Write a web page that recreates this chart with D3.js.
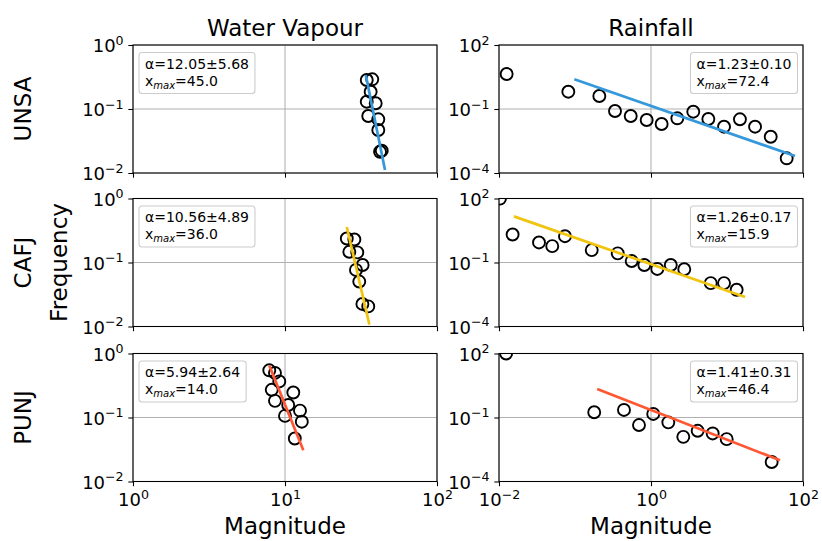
<!DOCTYPE html>
<html><head><meta charset="utf-8">
<script src="https://cdn.jsdelivr.net/npm/d3@7"></script>
<style>body{margin:0;background:#fff} text{font-family:"DejaVu Sans",sans-serif;fill:#000}</style>
</head><body><svg id="c" width="822" height="541"></svg>
<script>
// ---------- data ----------
const rowLabels = ["UNSA", "CAFJ", "PUNJ"];
const colTitles = ["Water Vapour", "Rainfall"];
const wvTicksX = [1, 10, 100];
const wvTicksY = [0.01, 0.1, 1];
const rainTicksX = [0.01, 1, 100];
const rainTicksY = [1e-4, 0.1, 100];
const lineColors = ["#3498db", "#f1c40f", "#ff5733"];

// Water vapour
const unsaWvX = [34.5, 37.5, 36.6, 34.5, 39.5, 35.3, 41.1, 41.1, 43.3, 42.2];
const unsaWvY = [0.284, 0.291, 0.186, 0.130, 0.123, 0.0778, 0.069, 0.047, 0.0223, 0.0215];
const unsaWvFitX = [34.0, 45.5];
const unsaWvFitY = [0.34, 0.0111];

const cafjWvX = [25.5, 28.6, 26.5, 29.9, 32.4, 29.3, 30.8, 32.3, 35.3];
const cafjWvY = [0.237, 0.229, 0.147, 0.144, 0.0915, 0.0765, 0.0504, 0.0225, 0.0206];
const cafjWvFitX = [25.5, 35.9];
const cafjWvFitY = [0.359, 0.0107];

const punjWvX = [7.88, 8.59, 9.17, 8.18, 11.34, 8.59, 10.5, 12.55, 10.0, 12.9, 11.6];
const punjWvY = [0.546, 0.497, 0.366, 0.271, 0.246, 0.182, 0.157, 0.128, 0.106, 0.086, 0.047];
const punjWvFitX = [7.88, 13.2];
const punjWvFitY = [0.647, 0.0308];

// Rainfall
const unsaRainX = [0.0126, 0.0817, 0.209, 0.336, 0.541, 0.877, 1.38, 2.22, 3.60, 5.68, 9.14, 14.8, 23.4, 37.6, 61.0];
const unsaRainY = [4.37, 0.647, 0.406, 0.0805, 0.0469, 0.0305, 0.0198, 0.0366, 0.0747, 0.034, 0.0148, 0.0329, 0.0148, 0.00502, 0.000488];
const unsaRainFitX = [0.098, 78.5];
const unsaRainFitY = [2.47, 0.000625];

const cafjRainX = [0.0103, 0.0151, 0.0336, 0.0502, 0.0738, 0.166, 0.365, 0.557, 0.817, 1.21, 1.82, 2.74, 6.11, 9.14, 13.4];
const cafjRainY = [99, 2.05, 0.871, 0.585, 1.71, 0.381, 0.268, 0.117, 0.0766, 0.0499, 0.0766, 0.0483, 0.0108, 0.0108, 0.00526];
const cafjRainFitX = [0.0157, 17.3];
const cafjRainFitY = [14.5, 0.0024];

const punjRainX = [0.0124, 0.179, 0.441, 0.695, 1.07, 1.69, 2.66, 4.11, 6.48, 9.91, 38.7];
const punjRainY = [100, 0.176, 0.226, 0.0443, 0.147, 0.0594, 0.0124, 0.0238, 0.0179, 0.00966, 0.000818];
const punjRainFitX = [0.196, 49.8];
const punjRainFitY = [2.15, 0.000984];

const wvAlpha = ["α=12.05±5.68", "α=10.56±4.89", "α=5.94±2.64"];
const wvXmax = ["45.0", "36.0", "14.0"];
const rainAlpha = ["α=1.23±0.10", "α=1.26±0.17", "α=1.41±0.31"];
const rainXmax = ["72.4", "15.9", "46.4"];

// ---------- layout ----------
const svg = d3.select("#c");
const colLeft = [133, 499], colW = 304;
const rowTop = [45, 198.5, 353.5], rowH = 128;

const panels = [
  {r:0,c:0,x:unsaWvX,y:unsaWvY,fx:unsaWvFitX,fy:unsaWvFitY,a:wvAlpha[0],m:wvXmax[0]},
  {r:0,c:1,x:unsaRainX,y:unsaRainY,fx:unsaRainFitX,fy:unsaRainFitY,a:rainAlpha[0],m:rainXmax[0]},
  {r:1,c:0,x:cafjWvX,y:cafjWvY,fx:cafjWvFitX,fy:cafjWvFitY,a:wvAlpha[1],m:wvXmax[1]},
  {r:1,c:1,x:cafjRainX,y:cafjRainY,fx:cafjRainFitX,fy:cafjRainFitY,a:rainAlpha[1],m:rainXmax[1]},
  {r:2,c:0,x:punjWvX,y:punjWvY,fx:punjWvFitX,fy:punjWvFitY,a:wvAlpha[2],m:wvXmax[2]},
  {r:2,c:1,x:punjRainX,y:punjRainY,fx:punjRainFitX,fy:punjRainFitY,a:rainAlpha[2],m:rainXmax[2]},
];

function sup(sel, v) {
  const e = Math.round(Math.log10(v));
  sel.text(null);
  sel.append("tspan").text("10");
  sel.append("tspan").attr("dy", -7.5).style("font-size", "12.6px")
     .text(String(e).replace("-", "\u2212"));
}

const defs = svg.append("defs");

panels.forEach((p, i) => {
  const x0 = colLeft[p.c], y0 = rowTop[p.r];
  const xs = d3.scaleLog().domain(p.c === 0 ? [1, 100] : [0.01, 100]).range([x0, x0 + colW]);
  const ys = d3.scaleLog().domain(p.c === 0 ? [0.01, 1] : [1e-4, 100]).range([y0 + rowH, y0]);
  const tx = p.c === 0 ? wvTicksX : rainTicksX;
  const ty = p.c === 0 ? wvTicksY : rainTicksY;
  const g = svg.append("g");

  defs.append("clipPath").attr("id", "clip" + i).append("rect")
    .attr("x", x0).attr("y", y0).attr("width", colW).attr("height", rowH);

  // grid
  g.append("g").selectAll("line").data(tx).join("line")
    .attr("x1", d => xs(d)).attr("x2", d => xs(d)).attr("y1", y0).attr("y2", y0 + rowH)
    .attr("stroke", "#b0b0b0").attr("stroke-width", 1.07);
  g.append("g").selectAll("line").data(ty).join("line")
    .attr("y1", d => ys(d)).attr("y2", d => ys(d)).attr("x1", x0).attr("x2", x0 + colW)
    .attr("stroke", "#b0b0b0").attr("stroke-width", 1.07);

  const plot = g.append("g").attr("clip-path", `url(#clip${i})`);
  plot.selectAll("circle").data(p.x.map((v, k) => [v, p.y[k]])).join("circle")
    .attr("cx", d => xs(d[0])).attr("cy", d => ys(d[1])).attr("r", 6)
    .attr("fill", "none").attr("stroke", "#000").attr("stroke-width", 1.9);
  plot.append("path")
    .attr("d", d3.line().x(d => xs(d[0])).y(d => ys(d[1]))(p.fx.map((v, k) => [v, p.fy[k]])))
    .attr("stroke", lineColors[p.r]).attr("stroke-width", 2.7).attr("fill", "none");

  // axes
  const ay = g.append("g").attr("transform", `translate(${x0},0)`)
    .call(d3.axisLeft(ys).tickValues(ty).tickSize(4.7).tickPadding(4.7));
  ay.select(".domain").remove();
  ay.selectAll("line").attr("stroke-width", 1.07);
  ay.selectAll("text").style("font-size", "18px").attr("dy", null).attr("y", 6.5)
    .each(function(d) { sup(d3.select(this), d); });

  const ax = g.append("g").attr("transform", `translate(0,${y0 + rowH})`)
    .call(d3.axisBottom(xs).tickValues(tx).tickSize(4.7).tickPadding(4.7));
  ax.select(".domain").remove();
  ax.selectAll("line").attr("stroke-width", 1.07);
  if (p.r === 2) {
    ax.selectAll("text").style("font-size", "18px").attr("dy", null).attr("y", 24.5)
      .each(function(d) { sup(d3.select(this), d); });
  } else {
    ax.selectAll("text").remove();
  }

  // spines
  g.append("rect").attr("x", x0).attr("y", y0).attr("width", colW).attr("height", rowH)
    .attr("fill", "none").attr("stroke", "#000").attr("stroke-width", 1.07);

  // legend
  const lg = g.append("g");
  const box = lg.append("rect").attr("rx", 3).attr("ry", 3)
    .attr("fill", "#fff").attr("fill-opacity", 0.8).attr("stroke", "#cccccc").attr("stroke-width", 1.07);
  const t = lg.append("text").style("font-size", "14px");
  t.append("tspan").attr("x", 0).attr("y", 0).text(p.a);
  t.append("tspan").attr("x", 0).attr("y", 17).text("x");
  t.append("tspan").attr("dy", 3).style("font-size", "10px").style("font-style", "italic").text("max");
  t.append("tspan").attr("dy", -3).text("=" + p.m);
  const bb = t.node().getBBox();
  const bw = bb.width + 12, bh = 41;
  const bx = p.c === 0 ? x0 + 6 : x0 + colW - 5.5 - bw;
  const by = y0 + 7.5;
  box.attr("x", bx).attr("y", by).attr("width", bw).attr("height", bh);
  t.attr("transform", `translate(${bx + 6},${by + 16})`);
});

// titles
colTitles.forEach((s, c) => {
  svg.append("text").attr("x", colLeft[c] + colW / 2).attr("y", 36)
    .attr("text-anchor", "middle").style("font-size", "23px").text(s);
  svg.append("text").attr("x", colLeft[c] + colW / 2).attr("y", 534)
    .attr("text-anchor", "middle").style("font-size", "23px").text("Magnitude");
});
rowLabels.forEach((s, r) => {
  const cy = rowTop[r] + rowH / 2;
  svg.append("text").attr("transform", `translate(31,${cy}) rotate(-90)`)
    .attr("text-anchor", "middle").style("font-size", "23px").text(s);
});
svg.append("text").attr("transform", `translate(67,${rowTop[1] + rowH / 2}) rotate(-90)`)
  .attr("text-anchor", "middle").style("font-size", "23px").text("Frequency");
</script></body></html>
